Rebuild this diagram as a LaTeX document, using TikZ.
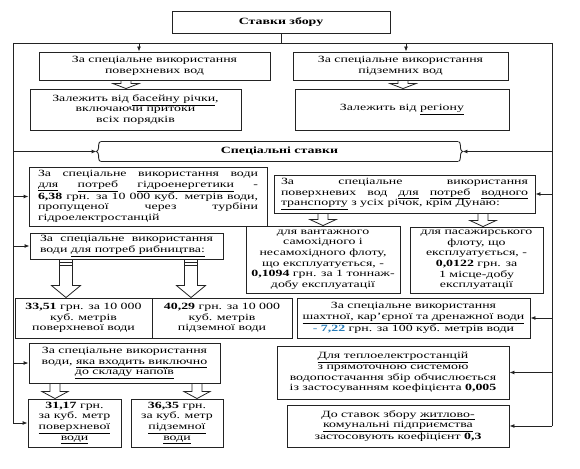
\documentclass[tikz,border=0pt]{standalone}
\usepackage{fontspec}
\setmainfont[FakeStretch=1.46]{Liberation Serif}
\usepackage{tikz}
\usetikzlibrary{arrows.meta, calc, decorations.pathreplacing}
\usepackage{xcolor}
\definecolor{lineblack}{RGB}{35, 35, 35}
\definecolor{rateblue}{RGB}{40, 125, 185}

% hollow block arrow: from node, to node, x, stem half width, head length
\newcommand{\hollowarrow}[5]{%
  \draw[hollow] let \p1 = (#1.south), \p2 = (#2.north) in
    ({#3pt-#4pt},\y1) -- ({#3pt-#4pt},{\y2+#5pt}) -- ({#3pt-#4pt-8pt},{\y2+#5pt})
    -- (#3pt,\y2) -- ({#3pt+#4pt+8pt},{\y2+#5pt}) -- ({#3pt+#4pt},{\y2+#5pt}) -- ({#3pt+#4pt},\y1);}
\newcommand{\stemstripes}[3]{%
  \draw[hollow] let \p1 = (#1.south) in
    ({#2pt-#3pt},{\y1-3pt}) -- ({#2pt+#3pt},{\y1-3pt})
    ({#2pt-#3pt},{\y1-6pt}) -- ({#2pt+#3pt},{\y1-6pt});}
\newcommand{\ul}[1]{\underline{#1}}
\newcommand{\boxfont}{\fontsize{9.5}{10.6}\selectfont\hyphenpenalty 10000\relax}

\begin{document}
\begin{tikzpicture}[x=1pt, y=-1pt]
    % Define styles
    \tikzstyle{box} = [rectangle, draw=lineblack, line width=0.9pt, inner xsep=2pt, inner ysep=1pt, align=center, font=\boxfont]
    \tikzstyle{jbox} = [box, align=justify]
    \tikzstyle{frame} = [draw=lineblack, line width=0.9pt]
    \tikzstyle{arr} = [frame, -{Latex[length=5pt, width=4pt]}]
    \tikzstyle{hollow} = [draw=lineblack, line width=0.8pt]

    \fill[white] (0,0) rectangle (580,468);
    \useasboundingbox (0,0) rectangle (580,468);

    % Nodes
    \node[box, minimum width=218pt, minimum height=22pt] (top) at (281,22) {\textbf{Ставки збору}};
    \node[box, minimum width=231pt, minimum height=28pt] (surface) at (154.5,66) {За спеціальне використання\\ поверхневих вод};
    \node[box, minimum width=211pt, minimum height=41pt] (surfacedep) at (135.5,109.5) {Залежить від \ul{басейну річки},\\ включаючи притоки\\ всіх порядків};
    \node[box, minimum width=215pt, minimum height=28pt] (ground) at (400.5,66) {За спеціальне використання\\ підземних вод};
    \node[box, minimum width=214pt, minimum height=41pt] (grounddep) at (402,109.5) {Залежить від \ul{регіону}};
    \node[box, draw=none, minimum width=365pt, minimum height=19pt] (special) at (279.5,151.5) {\textbf{Спеціальні ставки}};
    \node[jbox, text width=220pt, inner xsep=9pt, minimum height=59pt] (hydro) at (148,196.5) {За спеціальне використання води\linebreak \ul{для} \ul{потреб} \ul{гідроенергетики} -\linebreak \textbf{6,38} грн. за 10~000 куб. метрів води,\linebreak пропущеної через турбіни\linebreak гідроелектростанцій};
    \node[jbox, text width=247pt, inner xsep=7pt, minimum height=38pt] (transport) at (404.5,194) {За спеціальне використання\linebreak поверхневих вод \ul{для} \ul{потреб} \ul{водного}\linebreak \ul{транспорту} з усіх річок, крім Дунаю:};
    \node[jbox, text width=173pt, inner xsep=10pt, minimum height=26pt] (fish) at (126.5,246) {За спеціальне використання\linebreak води \ul{для потреб рибництва:}};
    \node[box, minimum width=154pt, minimum height=67pt] (cargo) at (323,259.5) {для вантажного\\ самохідного і\\ несамохідного флоту,\\ що експлуатується, -\\ \textbf{0,1094} грн. за 1 тоннаж-\\ добу експлуатації};
    \node[box, minimum width=133pt, minimum height=66pt] (passenger) at (476.5,260) {для пасажирського\\ флоту, що\\ експлуатується, -\\ \textbf{0,0122} грн. за\\ 1 місце-добу\\ експлуатації};
    \node[box, minimum width=137pt, minimum height=40pt] (fishsurf) at (83.5,318) {\textbf{33,51} грн. за 10 000\\ куб. метрів\\ поверхневої води};
    \node[box, minimum width=140pt, minimum height=40pt] (fishground) at (222,318) {\textbf{40,29} грн. за 10 000\\ куб. метрів\\ підземної води};
    \node[box, minimum width=233pt, minimum height=40pt] (mine) at (413.5,318) {За спеціальне використання\\ \ul{шахтної, кар'єрної та дренажної води}\\ {\color{rateblue}- \textbf{7,22}} грн. за 100 куб. метрів води};
    \node[box, minimum width=191pt, minimum height=40pt] (drinks) at (124.5,363) {За спеціальне використання\\ води, \ul{яка входить виключно}\\ \ul{до складу напоїв}};
    \node[box, minimum width=232pt, minimum height=53pt] (thermal) at (393,372.5) {\ul{Для теплоелектростанцій}\\ з прямоточною системою\\ водопостачання збір обчислюється\\ із застосуванням коефіцієнта \textbf{0,005}};
    \node[box, minimum width=93pt, minimum height=48pt] (drinksurf) at (74.5,423) {\textbf{31,17} грн.\\ за куб. метр\\ \ul{поверхневої}\\ \ul{води}};
    \node[box, minimum width=92pt, minimum height=48pt] (drinkground) at (177,423) {\textbf{36,35} грн.\\ за куб. метр\\ \ul{підземної}\\ \ul{води}};
    \node[box, minimum width=222pt, minimum height=42pt] (housing) at (398,426) {До ставок збору \ul{житлово-}\\ \ul{комунальні підприємства}\\ застосовують коефіцієнт \textbf{0,3}};

    % Bracket round the special rates
    \draw[frame, decorate, decoration={brace, amplitude=4pt}] ([xshift=4pt]special.south west) -- ([xshift=4pt]special.north west);
    \draw[frame, decorate, decoration={brace, amplitude=4pt}] ([xshift=-4pt]special.north east) -- ([xshift=-4pt]special.south east);
    \draw[frame] ([xshift=4pt]special.north west) -- ([xshift=-4pt]special.north east);
    \draw[frame] ([xshift=4pt]special.south west) -- ([xshift=-4pt]special.south east);

    % Frame lines
    \coordinate (lt) at (13,43);
    \coordinate (rt) at (552,43);
    \draw[frame] (top.south) -- (top.south |- lt);
    \draw[frame] (lt) -- (rt);
    \draw[frame] (lt) -- (lt |- drinksurf.west);
    \draw[frame] (rt) -- (rt |- housing.east);

    % Arrows
    \draw[arr] ([xshift=-15.5pt]surface.north |- lt) -- ([xshift=-15.5pt]surface.north);
    \draw[arr] ([xshift=5.5pt]ground.north |- lt) -- ([xshift=5.5pt]ground.north);
    \draw[arr] (lt |- special.west) -- (special.west);
    \draw[arr] (rt |- special.east) -- (special.east);
    \draw[arr] (lt |- hydro.west) -- (hydro.west);
    \draw[arr] (lt |- fish.west) -- (fish.west);
    \draw[arr] (lt |- drinks.west) -- (drinks.west);
    \draw[arr] (lt |- drinksurf.west) -- (drinksurf.west);
    \draw[arr] (rt |- transport.east) -- (transport.east);
    \draw[arr] (rt |- mine.east) -- (mine.east);
    \draw[arr] (rt |- thermal.east) -- (thermal.east);
    \draw[arr] (rt |- housing.east) -- (housing.east);

    % Hollow arrows
    \hollowarrow{surface}{surfacedep}{126}{5}{5}
    \hollowarrow{ground}{grounddep}{403}{5}{5}
    \hollowarrow{transport}{cargo}{323}{5}{6}
    \hollowarrow{transport}{passenger}{483}{5}{6}
    \hollowarrow{fish}{fishsurf}{66}{6.5}{12}
    \hollowarrow{fish}{fishground}{191}{6.5}{12}
    \stemstripes{fish}{66}{6.5}
    \stemstripes{fish}{191}{6.5}
    \hollowarrow{drinks}{drinksurf}{55}{5}{7}
    \hollowarrow{drinks}{drinkground}{197}{5}{7}
\end{tikzpicture}
\end{document}
